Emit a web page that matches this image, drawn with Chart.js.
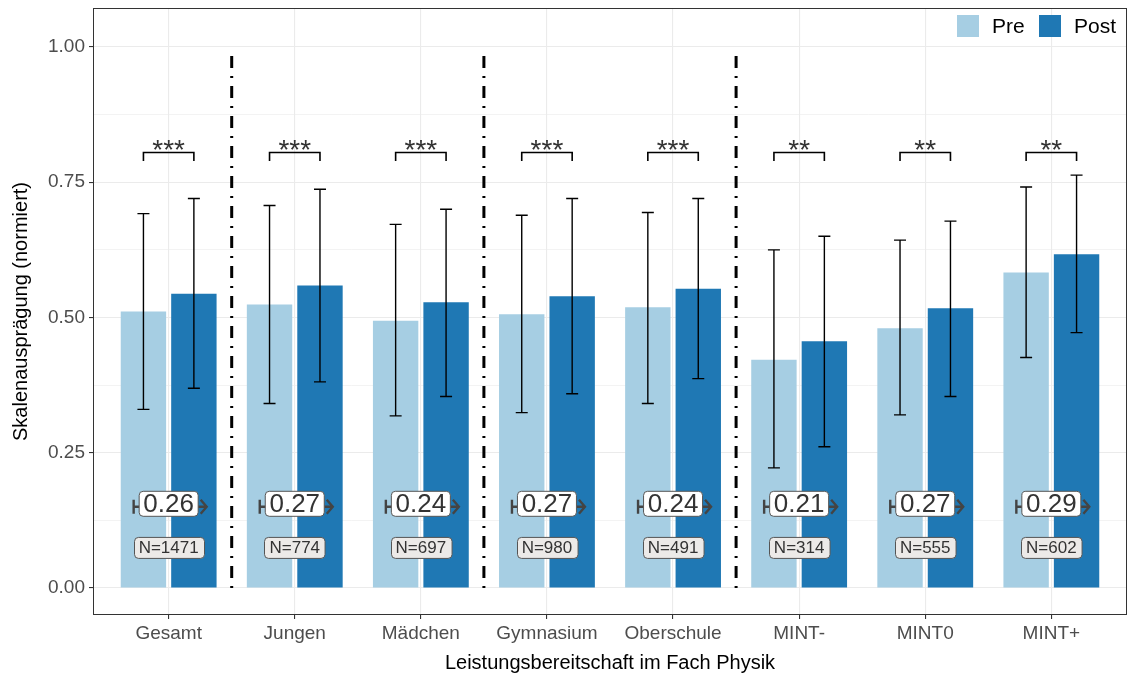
<!DOCTYPE html>
<html>
<head>
<meta charset="utf-8">
<script src="https://cdn.jsdelivr.net/npm/chart.js@4"></script>
<style>
  html, body { margin: 0; padding: 0; background: #fff; }
</style>
</head>
<body>
<canvas id="chart" width="1129" height="678"></canvas>
<script>
// Data
var categories = ['Gesamt', 'Jungen', 'Mädchen', 'Gymnasium', 'Oberschule', 'MINT-', 'MINT0', 'MINT+'];
var preMean  = [0.511, 0.524, 0.494, 0.506, 0.519, 0.422, 0.480, 0.583];
var postMean = [0.544, 0.559, 0.528, 0.539, 0.553, 0.456, 0.517, 0.617];
var preLow   = [0.330, 0.341, 0.318, 0.324, 0.341, 0.222, 0.320, 0.426];
var preHigh  = [0.692, 0.707, 0.672, 0.689, 0.694, 0.625, 0.643, 0.741];
var postLow  = [0.369, 0.381, 0.354, 0.359, 0.387, 0.261, 0.354, 0.472];
var postHigh = [0.720, 0.737, 0.700, 0.720, 0.720, 0.650, 0.678, 0.763];
var effect   = ['0.26', '0.27', '0.24', '0.27', '0.24', '0.21', '0.27', '0.29'];
var nLabels  = ['N=1471', 'N=774', 'N=697', 'N=980', 'N=491', 'N=314', 'N=555', 'N=602'];
var stars    = ['***', '***', '***', '***', '***', '**', '**', '**'];
var separators = [0.5, 2.5, 4.5];
var yTicks = [0, 0.125, 0.25, 0.375, 0.5, 0.625, 0.75, 0.875, 1];

var colors = {
    pre: '#A6CEE3',
    post: '#1F78B4',
    grid: '#EBEBEB',
    text: '#4D4D4D',
    dark: '#333333'
};
var FONT = '"Liberation Sans", Arial, sans-serif';

function roundRect(ctx, x, y, w, h, r) {
    ctx.beginPath();
    ctx.moveTo(x + r, y);
    ctx.lineTo(x + w - r, y);
    ctx.arcTo(x + w, y, x + w, y + r, r);
    ctx.lineTo(x + w, y + h - r);
    ctx.arcTo(x + w, y + h, x + w - r, y + h, r);
    ctx.lineTo(x + r, y + h);
    ctx.arcTo(x, y + h, x, y + h - r, r);
    ctx.lineTo(x, y + r);
    ctx.arcTo(x, y, x + r, y, r);
    ctx.closePath();
}

// Error bars, brackets, separators, annotation labels, panel border, legend
var overlay = {
    id: 'overlay',
    afterDatasetsDraw: function (chart) {
        var ctx = chart.ctx;
        var xs = chart.scales.x, ys = chart.scales.y;
        var preBars = chart.getDatasetMeta(0).data;
        var postBars = chart.getDatasetMeta(1).data;
        ctx.save();

        // dash-dot separators
        ctx.strokeStyle = '#000';
        ctx.lineWidth = 3;
        ctx.lineCap = 'butt';
        ctx.setLineDash([2, 8, 12, 8]);
        separators.forEach(function (s) {
            var px = xs.getPixelForValue(s);
            ctx.beginPath();
            ctx.moveTo(px, ys.getPixelForValue(0));
            ctx.lineTo(px, ys.getPixelForValue(0.99));
            ctx.stroke();
        });
        ctx.setLineDash([]);

        // error bars
        ctx.lineWidth = 1.4;
        ctx.strokeStyle = '#000';
        function errBar(px, lo, hi) {
            var y1 = ys.getPixelForValue(lo), y2 = ys.getPixelForValue(hi);
            ctx.beginPath();
            ctx.moveTo(px, y1); ctx.lineTo(px, y2);
            ctx.moveTo(px - 6, y1); ctx.lineTo(px + 6, y1);
            ctx.moveTo(px - 6, y2); ctx.lineTo(px + 6, y2);
            ctx.stroke();
        }
        categories.forEach(function (c, i) {
            errBar(preBars[i].x, preLow[i], preHigh[i]);
            errBar(postBars[i].x, postLow[i], postHigh[i]);
        });

        // significance brackets
        var by = ys.getPixelForValue(0.805), bt = ys.getPixelForValue(0.789);
        ctx.lineWidth = 1.6;
        ctx.fillStyle = colors.dark;
        ctx.font = '28px ' + FONT;
        ctx.textAlign = 'center';
        ctx.textBaseline = 'alphabetic';
        categories.forEach(function (c, i) {
            var a = preBars[i].x, b = postBars[i].x;
            ctx.beginPath();
            ctx.moveTo(a, bt); ctx.lineTo(a, by); ctx.lineTo(b, by); ctx.lineTo(b, bt);
            ctx.stroke();
            ctx.fillText(stars[i], (a + b) / 2, by + 7);
        });

        // effect size arrows and labels
        var ey = ys.getPixelForValue(0.15);
        categories.forEach(function (c, i) {
            var cx = xs.getPixelForValue(i);
            ctx.strokeStyle = '#444';
            ctx.lineWidth = 2.4;
            ctx.beginPath();
            ctx.moveTo(cx - 35, ey); ctx.lineTo(cx + 38, ey);
            ctx.moveTo(cx - 35, ey - 7); ctx.lineTo(cx - 35, ey + 7);
            ctx.moveTo(cx + 32, ey - 7); ctx.lineTo(cx + 38, ey); ctx.lineTo(cx + 32, ey + 7);
            ctx.stroke();
            ctx.fillStyle = '#fff';
            ctx.strokeStyle = '#555';
            ctx.lineWidth = 1;
            roundRect(ctx, cx - 29.5, ey - 15.5, 59, 25, 4);
            ctx.fill(); ctx.stroke();
            ctx.fillStyle = colors.dark;
            ctx.font = '26px ' + FONT;
            ctx.textBaseline = 'middle';
            ctx.fillText(effect[i], cx, ey - 2);
        });

        // N labels
        var ny = ys.getPixelForValue(0.074);
        ctx.font = '17px ' + FONT;
        categories.forEach(function (c, i) {
            var cx = xs.getPixelForValue(i);
            var w = ctx.measureText(nLabels[i]).width + 10;
            ctx.fillStyle = '#ECEAE8';
            ctx.strokeStyle = '#555';
            ctx.lineWidth = 1;
            roundRect(ctx, Math.round(cx - w / 2) + 0.5, ny - 10.5, w, 21, 4);
            ctx.fill(); ctx.stroke();
            ctx.fillStyle = colors.dark;
            ctx.fillText(nLabels[i], cx, ny + 0.5);
        });
        ctx.restore();
    },
    afterDraw: function (chart) {
        var ctx = chart.ctx, a = chart.chartArea;
        ctx.save();
        // panel border
        ctx.strokeStyle = '#333';
        ctx.lineWidth = 1;
        ctx.strokeRect(a.left + 0.5, a.top + 0.5, a.right - a.left - 1, a.bottom - a.top - 1);

        // legend (top right, inside the panel)
        var items = [['Pre', colors.pre, 957], ['Post', colors.post, 1039]];
        ctx.font = '21px ' + FONT;
        ctx.textAlign = 'left';
        ctx.textBaseline = 'middle';
        items.forEach(function (it) {
            ctx.fillStyle = it[1];
            ctx.fillRect(it[2], 15, 22, 22);
            ctx.fillStyle = '#000';
            ctx.fillText(it[0], it[2] + 35, 27);
        });
        ctx.restore();
    }
};

new Chart(document.getElementById('chart'), {
    type: 'bar',
    data: {
        datasets: [{
            label: 'Pre',
            data: preMean.map(function (v, i) { return { x: i, y: v }; }),
            backgroundColor: colors.pre
        }, {
            label: 'Post',
            data: postMean.map(function (v, i) { return { x: i, y: v }; }),
            backgroundColor: colors.post
        }]
    },
    options: {
        responsive: false,
        animation: false,
        devicePixelRatio: 1,
        categoryPercentage: 0.8,
        barPercentage: 0.9,
        layout: { padding: { top: 8, right: 2, left: 0, bottom: 0 } },
        scales: {
            x: {
                type: 'linear',
                offset: false,
                min: -0.6,
                max: 7.6,
                afterBuildTicks: function (axis) {
                    axis.ticks = categories.map(function (c, i) { return { value: i }; });
                },
                afterFit: function (axis) { axis.height = 63; },
                ticks: {
                    autoSkip: false,
                    maxRotation: 0,
                    padding: 3,
                    color: colors.text,
                    font: { family: FONT, size: 19 },
                    callback: function (value) { return categories[value]; }
                },
                grid: { offset: false, color: colors.grid, lineWidth: 1.1, tickLength: 4, tickColor: '#333' },
                border: { display: false },
                title: {
                    display: true,
                    text: 'Leistungsbereitschaft im Fach Physik',
                    color: '#000',
                    font: { family: FONT, size: 20 },
                    padding: { top: 0, bottom: 3 }
                }
            },
            y: {
                min: -0.05,
                max: 1.072,
                afterBuildTicks: function (axis) {
                    axis.ticks = yTicks.map(function (v) { return { value: v }; });
                },
                afterFit: function (axis) {
                    axis.width = 93;
                    axis.paddingTop = 0;
                    axis.paddingBottom = 0;
                },
                ticks: {
                    padding: 4,
                    color: colors.text,
                    font: { family: FONT, size: 19 },
                    callback: function (value) {
                        return (value * 4) % 1 === 0 ? value.toFixed(2) : '';
                    }
                },
                grid: {
                    color: colors.grid,
                    lineWidth: function (c) { return (c.tick && (c.tick.value * 4) % 1 === 0) ? 1.1 : 0.6; },
                    tickLength: 4,
                    tickColor: function (c) { return (c.tick && (c.tick.value * 4) % 1 === 0) ? '#333' : 'rgba(0,0,0,0)'; }
                },
                border: { display: false },
                title: {
                    display: true,
                    text: 'Skalenausprägung (normiert)',
                    color: '#000',
                    font: { family: FONT, size: 20 },
                    padding: { top: 9, bottom: 0 }
                }
            }
        },
        plugins: {
            legend: { display: false },
            tooltip: { enabled: false }
        }
    },
    plugins: [overlay]
});
</script>
</body>
</html>
